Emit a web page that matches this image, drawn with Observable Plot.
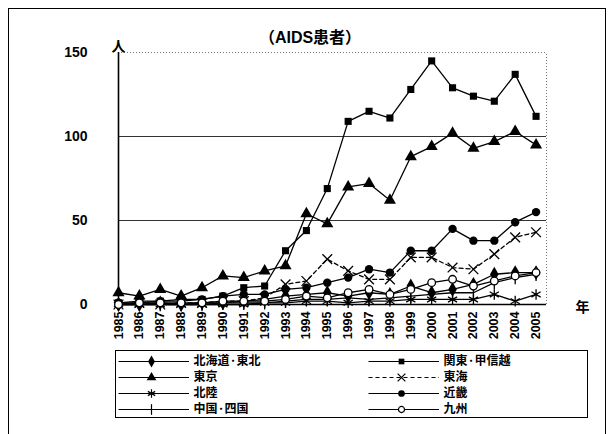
<!DOCTYPE html>
<html><head><meta charset="utf-8">
<script src="https://cdn.jsdelivr.net/npm/d3@7"></script>
<script src="https://cdn.jsdelivr.net/npm/@observablehq/plot@0.6"></script>
<style>
body{margin:0;background:#fff;width:611px;height:434px;overflow:hidden;position:relative;}
#frame{position:absolute;left:8px;top:8px;width:598px;height:440px;border:1px solid #000;box-sizing:border-box;}
#title{position:absolute;left:0;width:620px;top:24px;text-align:center;font:bold 16px "Liberation Sans","Noto Sans CJK JP",sans-serif;color:#000;}
#chart{position:absolute;left:0;top:0;}
#legend{position:absolute;left:115px;top:350px;width:473px;height:68px;border:1px solid #000;box-sizing:border-box;}
#legend svg{position:absolute;left:0;top:0;}
</style></head><body>
<div id="frame"></div>
<div id="title">（AIDS患者）</div>
<div id="chart"></div>
<div id="legend"></div>
<script>
const years = [1985,1986,1987,1988,1989,1990,1991,1992,1993,1994,1995,1996,1997,1998,1999,2000,2001,2002,2003,2004,2005];
const yTicks = [0,50,100,150];
const seriesNames = ["北海道·東北","関東·甲信越","東京","東海","北陸","近畿","中国·四国","九州"];
const hokkaidoTohoku = [0,0,1,0,1,1,2,3,5,6,7,5,7,6,11,7,9,12,18,19,19];
const kantoKoshinetsu = [1,1,2,2,3,5,10,11,32,44,69,109,115,111,128,145,129,124,121,137,112];
const tokyo = [7,5,9,5,10,17,16,20,23,54,48,70,72,62,88,94,102,93,97,103,95];
const tokai = [0,1,0,1,1,2,2,4,12,14,27,20,15,15,28,28,22,21,30,40,43];
const hokuriku = [0,0,0,0,0,0,0,1,1,2,2,1,2,2,3,3,3,3,6,2,6];
const kinki = [1,2,2,3,3,5,6,6,9,10,13,16,21,19,32,32,45,38,38,49,55];
const chugokuShikoku = [0,0,0,0,0,1,1,1,2,3,3,4,3,4,5,6,7,7,13,16,18];
const kyushu = [0,1,1,1,1,2,2,2,3,5,4,7,9,6,9,13,15,11,14,17,19];

const vtick = {draw(ctx, size){const h = Math.sqrt(size)*0.75; ctx.moveTo(0,-h); ctx.lineTo(0,h);}};
const valuesList = [hokkaidoTohoku,kantoKoshinetsu,tokyo,tokai,hokuriku,kinki,chugokuShikoku,kyushu];
const styles = [
  {symbol:"diamond", r:4.5, fill:"#000", stroke:"none", dash:null},
  {symbol:"square", r:4, fill:"#000", stroke:"none", dash:null},
  {symbol:"triangle", r:4.5, fill:"#000", stroke:"none", dash:null},
  {symbol:"times", r:4.5, fill:"none", stroke:"#000", dash:"4,3"},
  {symbol:"asterisk", r:5, fill:"none", stroke:"#000", dash:null},
  {symbol:"circle", r:4.2, fill:"#000", stroke:"none", dash:null},
  {symbol:vtick, r:5, fill:"none", stroke:"#000", dash:null},
  {symbol:"circle", r:3.8, fill:"#fff", stroke:"#000", dash:null}
];
const series = seriesNames.map((name,i)=>({name, values:valuesList[i], ...styles[i]}));
const font = '"Liberation Sans","Noto Sans CJK JP",sans-serif';

const marks = [
  Plot.ruleY([50,100], {stroke:"#333", strokeWidth:1}),
  Plot.ruleY([150], {stroke:"#777", strokeDasharray:"1,2"}),
  Plot.ruleX([2005.5], {y1:0, y2:150, stroke:"#777", strokeDasharray:"1,2"}),
  Plot.ruleX([1985], {y1:0, y2:150, stroke:"#000", strokeWidth:1.6}),
  Plot.ruleY([0], {x1:1985, x2:2005.5, stroke:"#000", strokeWidth:1.6}),
  Plot.axisY({ticks:yTicks, tickSize:0, tickPadding:31, fontSize:14, fontWeight:"bold", label:null, fontFamily:font}),
  Plot.axisX({ticks:years, tickFormat:d=>String(d), tickRotate:-90, tickSize:0, tickPadding:7, fontSize:12.5, fontWeight:"bold", label:null, fontFamily:font}),
  Plot.text(["人"], {x:()=>1985, y:()=>150, dy:-6, fontSize:14, fontWeight:"bold", fontFamily:'"Noto Sans CJK JP",sans-serif'}),
  Plot.text(["年"], {frameAnchor:"bottom-right", dx:43, dy:7, fontSize:14, fontWeight:"bold", fontFamily:'"Noto Sans CJK JP",sans-serif'})
];
for (const s of series) {
  const data = years.map((y,i)=>({year:y, value:s.values[i]}));
  marks.push(Plot.line(data, {x:"year", y:"value", stroke:"#000", strokeWidth:1.3, strokeDasharray:s.dash || undefined}));
}
for (const s of series) {
  const data = years.map((y,i)=>({year:y, value:s.values[i]}));
  marks.push(Plot.dot(data, {x:"year", y:"value", symbol:()=>s.symbol, r:s.r, fill:s.fill, stroke:s.stroke, strokeWidth:1.3}));
}

const chart = Plot.plot({
  width:611, height:350,
  marginLeft:118, marginRight:65, marginTop:52, marginBottom:46,
  x:{type:"linear", domain:[1985,2005.5]},
  y:{domain:[0,150]},
  symbol:{type:"identity"},
  style:{background:"transparent", fontFamily:font, color:"#000"},
  marks
});
document.getElementById("chart").append(chart);

// legend
const legendRows = series.map((s,i)=>({...s, col:i%2, row:Math.floor(i/2)}));
const legend = Plot.plot({
  width:471, height:66, margin:0,
  x:{type:"linear", domain:[0,2], range:[0,500], axis:null},
  y:{type:"linear", domain:[0,3], range:[10,58], axis:null},
  symbol:{type:"identity"},
  style:{background:"transparent", fontFamily:'"Noto Sans CJK JP",sans-serif', color:"#000"},
  marks:[
    ...legendRows.map(d=>Plot.link([d], {x1:r=>r.col+0.008, x2:r=>r.col+0.29, y1:"row", y2:"row", stroke:"#000", strokeWidth:1.2, strokeDasharray:d.dash||undefined})),
    ...legendRows.map(d=>Plot.dot([d], {x:r=>r.col+0.14, y:"row", symbol:()=>d.symbol, r:d.r*0.8, fill:d.fill, stroke:d.stroke, strokeWidth:1.2})),
    Plot.text(legendRows, {x:r=>r.col+0.30, y:"row", text:"name", textAnchor:"start", dx:2, fontSize:12, fontWeight:"bold", lineHeight:1})
  ]
});
document.getElementById("legend").append(legend);
</script>
</body></html>
